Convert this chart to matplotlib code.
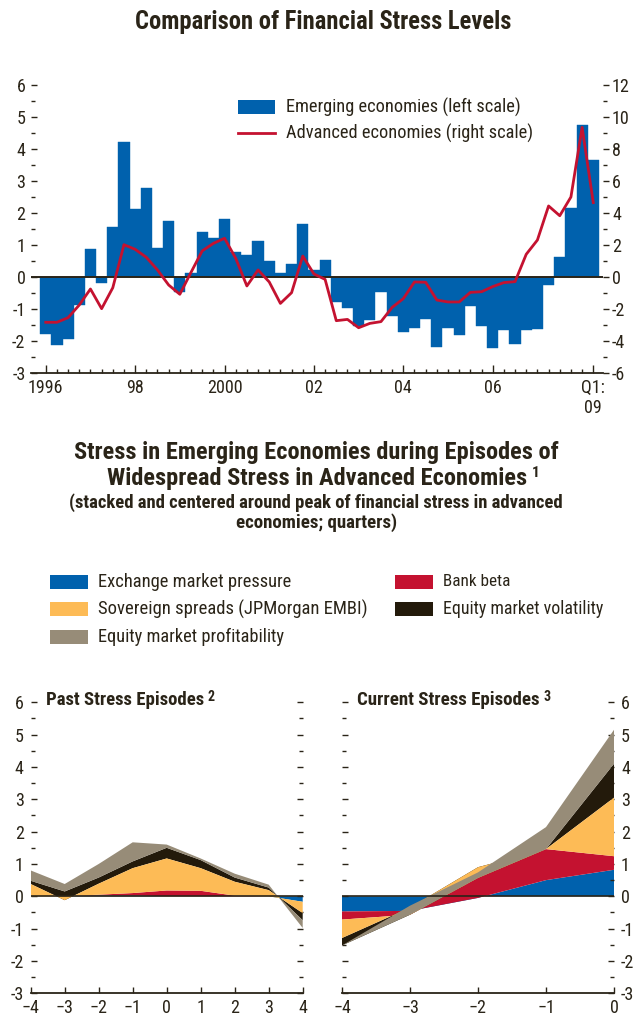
import matplotlib
matplotlib.use('Agg')
import matplotlib.pyplot as plt
from matplotlib import font_manager as fm
from matplotlib.lines import Line2D
from matplotlib.ticker import MultipleLocator, FixedLocator
import numpy as np

# pick a narrow sans if one is installed
_fonts = fm.fontManager.ttflist
_names = {f.name for f in _fonts}
if 'Liberation Sans Narrow' in _names:
    plt.rcParams['font.family'] = ['Liberation Sans Narrow', 'DejaVu Sans']
elif 'Roboto Condensed' in _names:
    plt.rcParams['font.family'] = ['Roboto Condensed', 'DejaVu Sans']
elif any(f.name == 'DejaVu Sans' and f.stretch == 'condensed' for f in _fonts):
    plt.rcParams['font.family'] = ['DejaVu Sans']
    plt.rcParams['font.stretch'] = 'condensed'
else:
    plt.rcParams['font.family'] = ['Roboto', 'DejaVu Sans']

# ---------------- data ----------------
# top panel: quarterly, 1996Q1 onwards
emerging = [-1.77, -2.13, -1.93, -0.88, 0.88, -0.18, 1.56, 4.22, 2.12, 2.78,
            0.90, 1.75, -0.47, 0.12, 1.41, 1.22, 1.81, 0.78, 0.69, 1.12,
            0.50, 0.12, 0.41, 1.66, 0.21, 0.53, -0.79, -0.97, -1.52, -1.33,
            -0.48, -1.23, -1.71, -1.60, -1.32, -2.19, -1.60, -1.81, -0.92, -1.54,
            -2.22, -1.67, -2.10, -1.67, -1.62, -0.25, 0.63, 2.17, 4.76, 3.66]
advanced = [-2.83, -2.83, -2.54, -1.75, -0.75, -1.98, -0.67, 2.02, 1.73, 1.23,
            0.44, -0.50, -1.08, 0.29, 1.63, 2.10, 2.42, 1.17, -0.56, 0.44,
            -0.31, -1.65, -0.98, 1.31, 0.19, -0.15, -2.73, -2.65, -3.17, -2.90,
            -2.79, -1.90, -1.35, -0.31, -0.33, -1.44, -1.56, -1.56, -0.96, -0.92,
            -0.60, -0.35, -0.29, 1.42, 2.31, 4.44, 3.83, 5.00, 9.35, 4.65]
year_ticks = [0, 8, 16, 24, 32, 40, 49]
year_labels = ['1996', '98', '2000', '02', '04', '06', 'Q1:\n09']

# bottom panels: stacked components
components = ['Exchange market pressure', 'Bank beta',
              'Sovereign spreads (JPMorgan EMBI)', 'Equity market volatility',
              'Equity market profitability']
past_q = [-4, -3, -2, -1, 0, 1, 2, 3, 4]
past_emp = [0.0, 0.0, 0.03, 0.03, 0.0, 0.0, 0.0, 0.0, -0.17]
past_bank = [0.0, 0.0, 0.02, 0.07, 0.18, 0.17, 0.02, 0.0, 0.0]
past_sov = [0.38, -0.12, 0.34, 0.77, 0.99, 0.70, 0.43, 0.19, -0.35]
past_vol = [0.10, 0.27, 0.19, 0.21, 0.33, 0.25, 0.13, 0.08, -0.22]
past_prof = [0.32, 0.23, 0.42, 0.59, 0.10, 0.05, 0.12, 0.09, -0.24]

curr_q = [-4, -3, -2, -1, 0]
curr_emp = [-0.47, -0.45, -0.05, 0.50, 0.82]
curr_bank = [-0.25, -0.12, 0.62, 0.96, 0.42]
curr_sov = [-0.57, 0.22, 0.33, 0.00, 1.81]
curr_vol = [-0.23, -0.22, -0.33, 0.00, 1.05]
curr_prof = [0.00, 0.28, 0.17, 0.68, 1.05]

# ---------------- style ----------------
BLUE = '#0061ad'
RED = '#c41230'
ORANGE = '#fdbb56'
BLACK = '#231a0b'
GRAY = '#978c78'
TXT = '#2a2418'
comp_colors = [BLUE, RED, ORANGE, BLACK, GRAY]
comp_z = [1, 2, 4, 3, 5]   # volatility drawn under spreads

W, H = 634, 1024
fig = plt.figure(figsize=(W / 100, H / 100), dpi=100)
renderer = fig.canvas.get_renderer()


def fx(px):
    return px / W


def fy(py):
    return 1 - py / H


def fit(t, width_px):
    # scale a text so that it spans the width seen in the reference
    w = t.get_window_extent(renderer).width
    t.set_fontsize(t.get_fontsize() * width_px / w)
    return t


def ftext(x0, x1, y, s, bold=False, center=True):
    t = fig.text(fx((x0 + x1) / 2) if center else fx(x0), fy(y), s,
                 ha='center' if center else 'left', va='center', fontsize=12,
                 fontweight='bold' if bold else 'normal', color=TXT)
    return fit(t, x1 - x0)


######################### top panel #########################
ax = fig.add_axes([fx(31), fy(373), fx(572), 288 / H])
q = np.arange(len(emerging))
ax.bar(q, emerging, width=1.0, color=BLUE, edgecolor=BLUE, linewidth=0.3, zorder=2)
ax.axhline(0, color=TXT, lw=1.4, zorder=3)
ax.set_xlim(-1.32, 49.87)
ax.set_ylim(-3, 6)
ax.yaxis.set_major_locator(FixedLocator(range(-3, 7)))
ax.yaxis.set_minor_locator(MultipleLocator(0.5))
ax.set_yticklabels([str(v) for v in range(-3, 7)])
ax.tick_params(axis='y', which='both', direction='in', colors=TXT,
               labelsize=13, pad=4, width=1)
ax.tick_params(axis='y', which='major', length=4.5)
ax.tick_params(axis='y', which='minor', length=3)
ax.xaxis.set_major_locator(FixedLocator(year_ticks))
ax.xaxis.set_minor_locator(FixedLocator(q))
ax.set_xticklabels(year_labels)
ax.tick_params(axis='x', which='both', direction='in', colors=TXT,
               labelsize=13, pad=4, width=1)
ax.tick_params(axis='x', which='major', length=5.5)
ax.tick_params(axis='x', which='minor', length=3)
for s in ['left', 'right', 'top']:
    ax.spines[s].set_visible(False)
ax.spines['bottom'].set_color(TXT)
ax.spines['bottom'].set_linewidth(1.3)

ax2 = ax.twinx()
ax2.plot(q, advanced, color=RED, lw=2, zorder=4)
ax2.set_ylim(-6, 12)
ax2.yaxis.set_major_locator(FixedLocator(range(-6, 13, 2)))
ax2.yaxis.set_minor_locator(MultipleLocator(1))
ax2.set_yticklabels([str(v) for v in range(-6, 13, 2)])
ax2.tick_params(axis='y', which='both', direction='out', colors=TXT,
                labelsize=13, pad=2, width=1)
ax2.tick_params(axis='y', which='major', length=4.5)
ax2.tick_params(axis='y', which='minor', length=3)
for s in ['left', 'right', 'top', 'bottom']:
    ax2.spines[s].set_visible(False)

# top legend
fig.patches.append(plt.Rectangle((fx(238), fy(114)), fx(37), 14 / H, transform=fig.transFigure,
                                 facecolor=BLUE, edgecolor='none', figure=fig))
fig.add_artist(Line2D([fx(238), fx(275)], [fy(133), fy(133)], color=RED, lw=2))
ftext(286, 521, 107, 'Emerging economies (left scale)', center=False)
ftext(286, 532, 133, 'Advanced economies (right scale)', center=False)

ftext(135, 512, 22, 'Comparison of Financial Stress Levels', bold=True)

######################### bottom section titles #########################
ftext(73, 560, 453, 'Stress in Emerging Economies during Episodes of', bold=True)
t2 = ftext(107, 528, 479, 'Widespread Stress in Advanced Economies', bold=True)
fig.add_artist(plt.Annotation('1', xy=(1, 1), xycoords=t2, xytext=(3, 1),
                              textcoords='offset points', ha='left', va='top',
                              fontsize=11, fontweight='bold', color=TXT))
ftext(67, 565, 503, '(stacked and centered around peak of financial stress in advanced', bold=True)
ftext(236, 397, 523, 'economies; quarters)', bold=True)

# legend for components
leg_pos = [(50, 582, 290), (395, 582, 510), (50, 609, 367), (395, 609, 603), (50, 637, 284)]
for name, col, (lx, ly, lend) in zip(components, comp_colors, leg_pos):
    fig.patches.append(plt.Rectangle((fx(lx), fy(ly + 7)), fx(38), 14 / H,
                                     transform=fig.transFigure, facecolor=col,
                                     edgecolor='none', figure=fig))
    ftext(lx + 48, lend, ly, name, center=False)


######################### stacked panels #########################
def stacked(ax, x, series):
    cum = np.zeros(len(x))
    for vals, col, z in zip(series, comp_colors, comp_z):
        new = cum + np.array(vals)
        ax.fill_between(x, cum, new, facecolor=col, edgecolor='none', lw=0, zorder=z)
        cum = new
    ax.axhline(0, color=TXT, lw=1.2, zorder=6)


def style_panel(ax, xt, labels_left):
    ax.set_xlim(xt[0], xt[-1])
    ax.set_ylim(-3, 6)
    ax.yaxis.set_major_locator(FixedLocator(range(-3, 7)))
    ax.yaxis.set_minor_locator(MultipleLocator(0.5))
    ax.set_yticklabels([str(v) for v in range(-3, 7)])
    ax.tick_params(axis='y', which='both', left=True, right=True,
                   labelleft=labels_left, labelright=not labels_left,
                   direction='in', colors=TXT, labelsize=13, pad=5, width=1)
    ax.tick_params(axis='y', which='major', length=4.5)
    ax.tick_params(axis='y', which='minor', length=3)
    ax.xaxis.set_major_locator(FixedLocator(xt))
    ax.set_xticklabels(['\u2212%d' % -v if v < 0 else str(v) for v in xt])
    ax.tick_params(axis='x', which='both', direction='in', colors=TXT,
                   labelsize=13, pad=4, width=1, length=4)
    for s in ['left', 'right', 'top']:
        ax.spines[s].set_visible(False)
    ax.spines['bottom'].set_color(TXT)
    ax.spines['bottom'].set_linewidth(1.3)


def panel_title(ax, text, sup, width_px):
    t = ax.text(0.056, 1.008, text, transform=ax.transAxes, ha='left', va='center',
                fontsize=13, fontweight='bold', color=TXT)
    fit(t, width_px)
    ax.annotate(sup, xy=(1, 1), xycoords=t, xytext=(2.5, 1), textcoords='offset points',
                ha='left', va='top', fontsize=10, fontweight='bold', color=TXT)


axp = fig.add_axes([fx(30.7), fy(993.3), fx(272), 291 / H])
stacked(axp, past_q, [past_emp, past_bank, past_sov, past_vol, past_prof])
style_panel(axp, past_q, True)
panel_title(axp, 'Past Stress Episodes', '2', 157)

axc = fig.add_axes([fx(342), fy(993.3), fx(272), 291 / H])
stacked(axc, curr_q, [curr_emp, curr_bank, curr_sov, curr_vol, curr_prof])
style_panel(axc, curr_q, False)
panel_title(axc, 'Current Stress Episodes', '3', 181)

fig.savefig('out.png', dpi=100)
